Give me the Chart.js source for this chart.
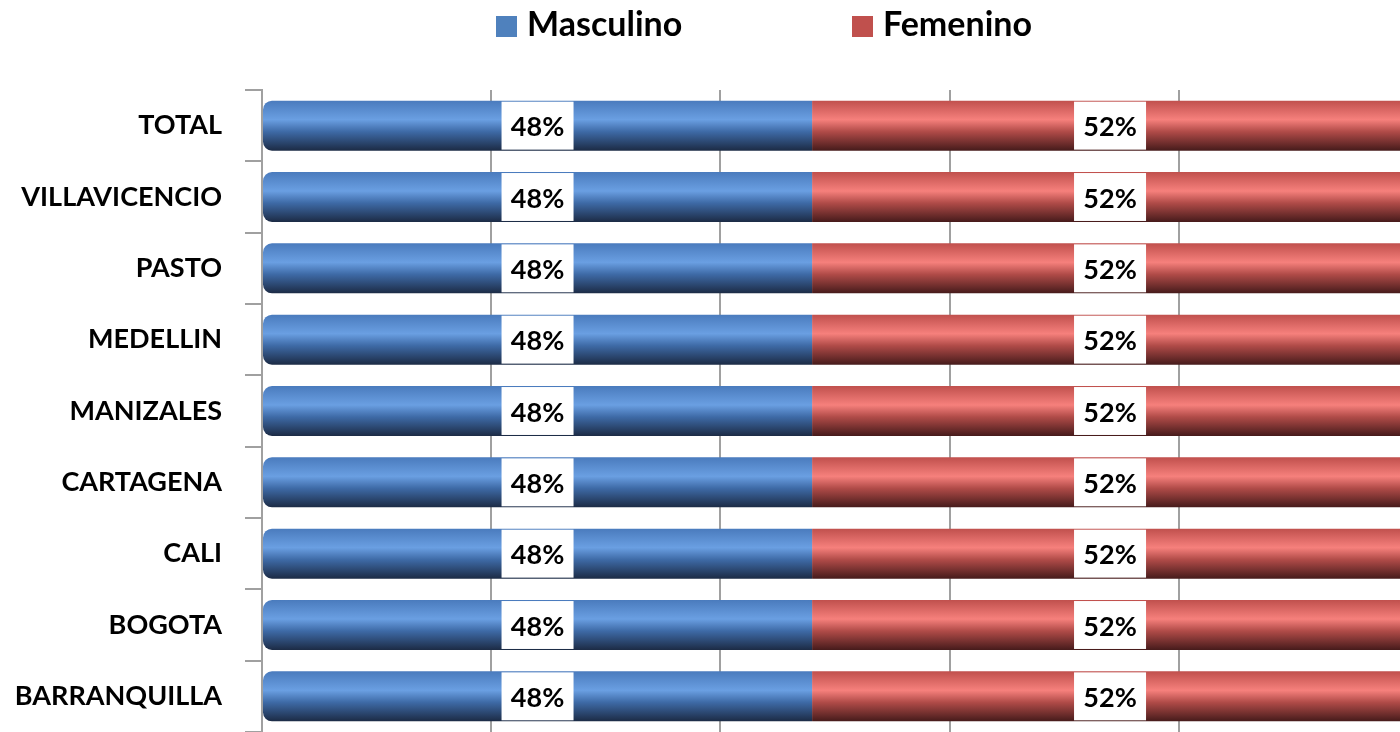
<!DOCTYPE html>
<html>
<head>
<meta charset="utf-8">
<script src="https://cdn.jsdelivr.net/npm/chart.js@4.4.0/dist/chart.umd.min.js"></script>
<style>
  html, body { margin: 0; padding: 0; background: #fff; overflow: hidden; }
  /* el grafico sigue un poco fuera del borde derecho */
  #wrap { width: 1408px; height: 732px; }
</style>
</head>
<body>
<div id="wrap"><canvas id="myChart"></canvas></div>
<script>
// Ciudades (de arriba hacia abajo)
const ciudades = ['TOTAL', 'VILLAVICENCIO', 'PASTO', 'MEDELLIN', 'MANIZALES', 'CARTAGENA', 'CALI', 'BOGOTA', 'BARRANQUILLA'];
// Porcentajes por sexo
const masculino = [48, 48, 48, 48, 48, 48, 48, 48, 48];
const femenino  = [52, 52, 52, 52, 52, 52, 52, 52, 52];

const colores = {
    azul: ['#4a7bbd', '#6a9fe2', '#3e6aa6', '#1c2b45'],
    rojo: ['#c0504d', '#f6807c', '#b04b48', '#461b1b']
};

// Degradado tipo cilindro para cada barra
const cilindro = {
    id: 'cilindro',
    beforeDatasetsDraw(chart) {
        const ctx = chart.ctx;
        chart.data.datasets.forEach((ds, i) => {
            const meta = chart.getDatasetMeta(i);
            const c = i === 0 ? colores.azul : colores.rojo;
            meta.data.forEach(el => {
                const top = el.y - el.height / 2;
                const g = ctx.createLinearGradient(0, top, 0, top + el.height);
                g.addColorStop(0, c[0]);
                g.addColorStop(0.38, c[1]);
                g.addColorStop(0.62, c[2]);
                g.addColorStop(1, c[3]);
                // copia propia, las opciones vienen compartidas
                el.options = Object.assign({}, el.options, { backgroundColor: g });
            });
        });
    },
    // Etiquetas con caja blanca
    afterDatasetsDraw(chart) {
        const ctx = chart.ctx;
        ctx.save();
        ctx.font = 'bold 27px Lato';
        ctx.textAlign = 'center';
        ctx.textBaseline = 'middle';
        chart.data.datasets.forEach((ds, i) => {
            const meta = chart.getDatasetMeta(i);
            meta.data.forEach((el, j) => {
                const cx = (el.x + el.base) / 2;
                const h = el.height - 2;
                ctx.fillStyle = '#ffffff';
                ctx.fillRect(cx - 36, el.y - h / 2, 72, h);
                ctx.fillStyle = '#000000';
                ctx.fillText(ds.data[j] + '%', cx, el.y + 2);
            });
        });
        ctx.restore();
    },
    // Leyenda arriba
    afterDraw(chart) {
        const ctx = chart.ctx;
        const xs = [496, 852];
        ctx.save();
        ctx.font = 'bold 34px Lato';
        ctx.textBaseline = 'middle';
        chart.data.datasets.forEach((ds, i) => {
            ctx.fillStyle = i === 0 ? '#4f81bd' : '#c0504d';
            ctx.fillRect(xs[i], 16, 21, 21);
            ctx.fillStyle = '#000';
            ctx.fillText(ds.label, xs[i] + 31, 25);
        });
        ctx.restore();
    }
};

new Chart(document.getElementById('myChart'), {
    type: 'bar',
    data: {
        labels: ciudades,
        datasets: [
            { label: 'Masculino', data: masculino, backgroundColor: '#4f81bd',
              borderRadius: { topLeft: 9, bottomLeft: 9 }, borderSkipped: false },
            { label: 'Femenino', data: femenino, backgroundColor: '#c0504d' }
        ]
    },
    options: {
        indexAxis: 'y',
        responsive: true,
        maintainAspectRatio: false,
        animation: false,
        layout: { padding: { top: 90, right: 0, bottom: 0, left: 0 } },
        datasets: { bar: { barPercentage: 0.7, categoryPercentage: 1 } },
        plugins: { legend: { display: false }, tooltip: { enabled: false } },
        scales: {
            x: {
                stacked: true, min: 0, max: 100,
                afterFit(scale) { scale.height = 0; scale.paddingRight = 0; scale.paddingLeft = 0; },
                ticks: { display: false, stepSize: 20 },
                grid: { color: '#a0a0a0', lineWidth: 2, drawTicks: false },
                border: { display: false }
            },
            y: {
                stacked: true,
                afterFit(scale) { scale.width = 262; scale.paddingTop = 0; scale.paddingBottom = 0; },
                ticks: { color: '#000', padding: 23, font: { family: 'Lato', weight: 'bold', size: 27 } },
                grid: { drawOnChartArea: false, tickLength: 17, color: '#a0a0a0', lineWidth: 2 },
                border: { display: true, color: '#a0a0a0', width: 2 }
            }
        }
    },
    plugins: [cilindro]
});
</script>
</body>
</html>
